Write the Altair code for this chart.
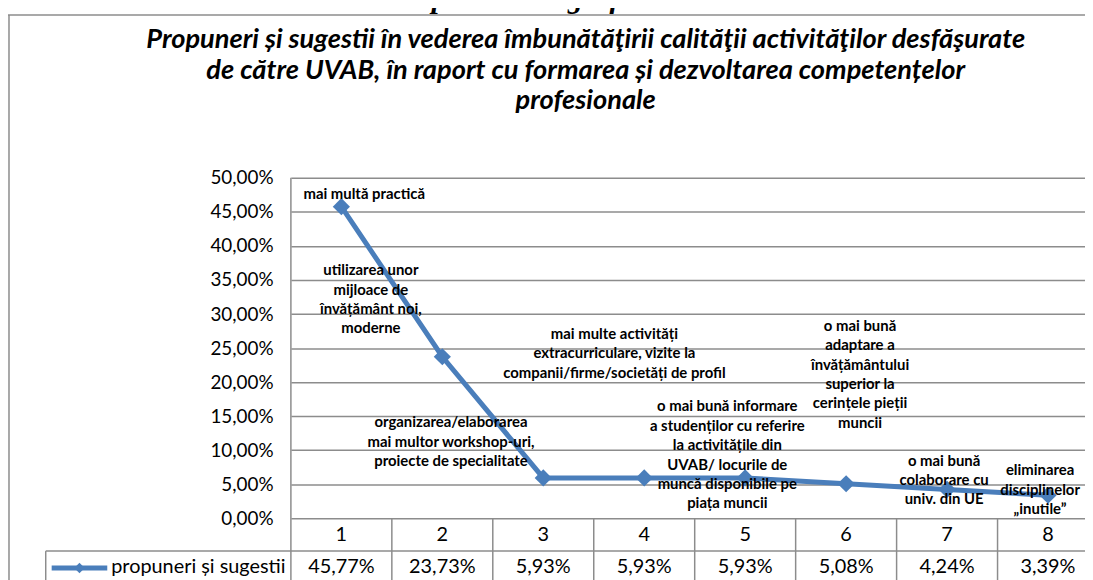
import altair as alt
import pandas as pd

# ---------------- data ----------------
categories = [1, 2, 3, 4, 5, 6, 7, 8]
values_pct = [45.77, 23.73, 5.93, 5.93, 5.93, 5.08, 4.24, 3.39]
value_labels = ["45,77%", "23,73%", "5,93%", "5,93%", "5,93%", "5,08%", "4,24%", "3,39%"]
point_labels = [
    "mai multă practică",
    "utilizarea unor\nmijloace de\nînvățământ noi,\nmoderne",
    "organizarea/elaborarea\n mai multor workshop-uri,\nproiecte de specialitate",
    "mai multe activități\nextracurriculare, vizite la\ncompanii/firme/societăți de profil",
    "o mai bună informare\na studenților cu referire\nla activitățile din\nUVAB/ locurile de\nmuncă disponibile pe\npiața muncii",
    "o mai bună\nadaptare a\nînvățământului\nsuperior la\ncerințele pieții\nmuncii",
    "o mai bună\ncolaborare cu\nuniv. din UE",
    "eliminarea\ndisciplinelor\n„inutile”",
]
series_name = "propuneri și sugestii"
y_tick_values = [0.0, 0.05, 0.10, 0.15, 0.20, 0.25, 0.30, 0.35, 0.40, 0.45, 0.50]
heading = "Reprezentare grafică"
title_lines = [
    "Propuneri și sugestii în vederea îmbunătăţirii calităţii activităţilor desfăşurate",
    "de către UVAB, în raport cu formarea și dezvoltarea competențelor",
    "profesionale",
]

df = pd.DataFrame({
    "cat": categories,
    "val": [v / 100 for v in values_pct],
    "vlabel": value_labels,
    "label": point_labels,
})
bounds = pd.DataFrame({"b": [c + 0.5 for c in categories[:-1]]})

# ---------------- styling ----------------
BLUE = "#4A7EBB"
GRID = "#8C8C8C"
FONT = "Lato"
W, H = 800, 343
COL = 101.7
x_scale = alt.Scale(domain=[0.5, 0.5 + W / COL], nice=False, zero=False)
y_scale = alt.Scale(domain=[0, 0.5], nice=False, zero=True)

X = alt.X("cat:Q", scale=x_scale, axis=None)
Y = alt.Y("val:Q", scale=y_scale,
          axis=alt.Axis(values=y_tick_values, grid=True, gridColor=GRID, gridWidth=1.5,
                        domain=False, ticks=False, title=None,
                        labelExpr="replace(format(datum.value, '.2%'), '.', ',')",
                        labelFont=FONT, labelFontSize=19, labelColor="black",
                        labelPadding=18))

base = alt.Chart(df)

line = base.mark_line(color=BLUE, strokeWidth=5).encode(x=X, y=Y)
points = base.mark_point(shape="diamond", size=300, filled=True, color=BLUE,
                         opacity=1).encode(x=X, y=Y)

# offsets of each label's first line from its point (pixels)
label_offsets = [(23, -13), (-72, -87), (-93, -56), (-30, -145),
                 (-18, -72), (14, -159), (-3, -29), (-8, -25)]
label_layers = []
for c, (dx, dy) in zip(categories, label_offsets):
    label_layers.append(
        base.transform_filter(alt.datum.cat == c)
        .mark_text(font=FONT, fontSize=15, fontWeight="bold", color="black",
                   align="center", baseline="middle", lineHeight=19.5,
                   lineBreak="\n", dx=dx, dy=dy)
        .encode(x=X, y=Y, text="label:N")
    )

# ---------------- data table below the plot ----------------
one_row = pd.DataFrame({"k": [0]})


def rule(x1, x2, y1, y2, color=GRID, width=1.5):
    return alt.Chart(one_row).mark_rule(color=color, strokeWidth=width).encode(
        x=alt.value(x1), x2=alt.value(x2), y=alt.value(y1), y2=alt.value(y2))


col_lines = alt.Chart(bounds).mark_rule(color=GRID, strokeWidth=1.5).encode(
    x=alt.X("b:Q", scale=x_scale, axis=None), y=alt.value(H), y2=alt.value(H + 70))
left_axis = rule(0, 0, 0, H + 70)
row_line = rule(-247, W, H + 33, H + 33)
legend_left = rule(-247, -247, H + 33, H + 70)

cat_text = base.mark_text(font=FONT, fontSize=20, color="black", baseline="middle").encode(
    x=X, y=alt.value(H + 17), text="cat:N")
val_text = base.mark_text(font=FONT, fontSize=20, color="black", baseline="middle").encode(
    x=X, y=alt.value(H + 49), text="vlabel:N")

one = alt.Chart(pd.DataFrame({"name": [series_name]}))
legend_line = rule(-241, -185, H + 50, H + 50, color=BLUE, width=5)
legend_pt = one.mark_point(shape="diamond", size=110, filled=True, color=BLUE, opacity=1).encode(
    x=alt.value(-213), y=alt.value(H + 50))
legend_txt = one.mark_text(font=FONT, fontSize=20, color="black", align="left",
                           baseline="middle").encode(
    x=alt.value(-181), y=alt.value(H + 49), text="name:N")

# ---------------- chart frame + titles ----------------
frame_top = rule(-285, W, -164, -164)
frame_left = rule(-284, -284, -164, H + 70)

title_df = pd.DataFrame({"t": title_lines, "i": [0, 1, 2]})
title_marks = []
for i, yy in enumerate([-139, -108, -77]):
    title_marks.append(
        alt.Chart(title_df).transform_filter(alt.datum.i == i).mark_text(
            font=FONT, fontSize=27.4, fontWeight="bold", fontStyle="italic",
            color="black", align="center", baseline="middle").encode(
            x=alt.value(297), y=alt.value(yy), text="t:N"))

head = alt.Chart(pd.DataFrame({"h": [heading]})).mark_text(
    font="Liberation Serif", fontSize=30, fontWeight="bold", fontStyle="italic",
    color="black", align="center", baseline="alphabetic").encode(
    x=alt.value(238), y=alt.value(-171), text="h:N")

chart = alt.layer(
    line, frame_top, frame_left, head, *title_marks,
    col_lines, left_axis, row_line, legend_left,
    points, *label_layers,
    cat_text, val_text, legend_line, legend_pt, legend_txt,
).properties(
    width=W, height=H,
    autosize=alt.AutoSizeParams(type="none"),
    padding={"left": 285, "top": 169, "right": 0, "bottom": 60},
    background="white",
).configure_view(stroke=None)

chart.save("out.html", embed_options={"renderer": "svg", "actions": False})
